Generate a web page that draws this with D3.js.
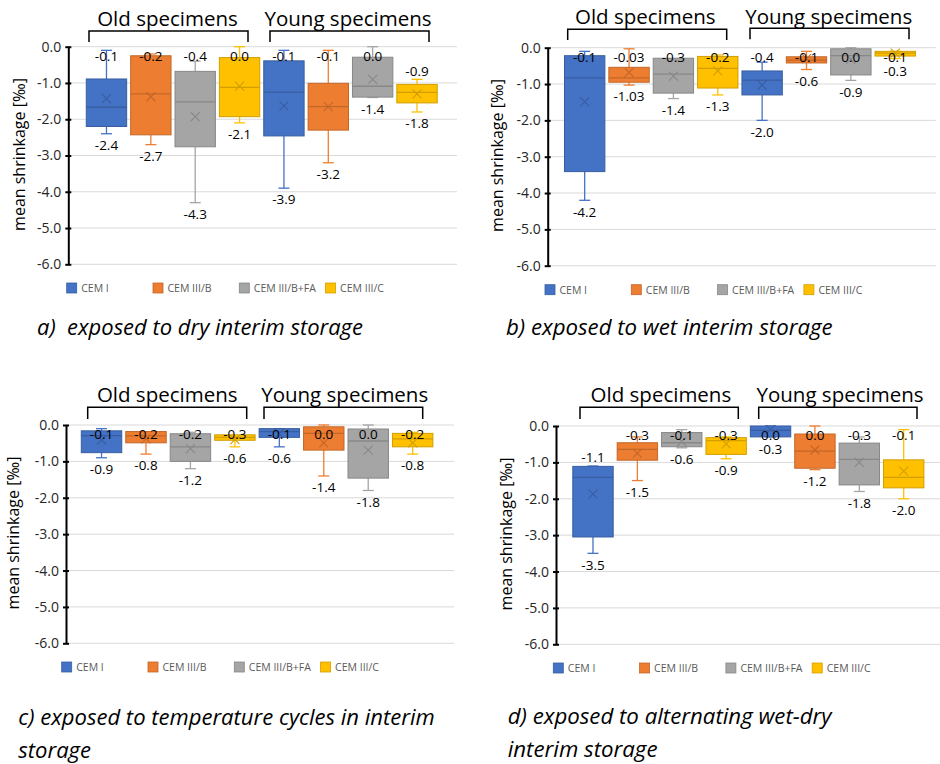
<!DOCTYPE html>
<html><head><meta charset="utf-8">
<script src="https://cdn.jsdelivr.net/npm/d3@7"></script>
<style>
body{margin:0;background:#fff}
svg{display:block}
text{font-family:"Open Sans","Noto Sans",sans-serif}
</style>
</head><body>
<svg id="chart" width="940" height="764"></svg>
<script>
// ---------- data ----------
const categories = ["CEM I", "CEM III/B", "CEM III/B+FA", "CEM III/C"];
const groups = ["Old specimens", "Young specimens"];
const colors = ["#4472C4", "#ED7D31", "#A5A5A5", "#FFC000"];
const yTicks = [0, -1, -2, -3, -4, -5, -6];
const yLabel = "mean shrinkage [‰]";

// a) dry interim storage
const dryMin    = [-2.4, -2.7, -4.3, -2.1, -3.9, -3.2, -1.4, -1.8];
const dryQ1     = [-2.2, -2.43, -2.76, -1.93, -2.46, -2.3, -1.39, -1.55];
const dryMedian = [-1.67, -1.3, -1.52, -1.12, -1.25, -1.65, -1.09, -1.26];
const dryQ3     = [-0.89, -0.25, -0.68, -0.3, -0.39, -1.01, -0.29, -1.04];
const dryMax    = [-0.1, -0.2, -0.4, 0.0, -0.1, -0.1, 0.0, -0.9];
const dryMean   = [-1.43, -1.38, -1.93, -1.09, -1.63, -1.65, -0.9, -1.3];

// b) wet interim storage
const wetMin    = [-4.2, -1.03, -1.4, -1.3, -2.0, -0.6, -0.9, -0.3];
const wetQ1     = [-3.41, -0.95, -1.25, -1.11, -1.3, -0.42, -0.75, -0.23];
const wetMedian = [-0.83, -0.83, -0.73, -0.57, -0.89, -0.34, -0.22, -0.15];
const wetQ3     = [-0.22, -0.54, -0.29, -0.24, -0.64, -0.25, -0.03, -0.1];
const wetMax    = [-0.1, -0.03, -0.3, -0.2, -0.4, -0.1, 0.0, -0.1];
const wetMean   = [-1.49, -0.68, -0.78, -0.64, -1.03, -0.3, -0.32, -0.15];

// c) temperature cycles
const cycMin    = [-0.9, -0.8, -1.2, -0.6, -0.6, -1.4, -1.8, -0.8];
const cycQ1     = [-0.76, -0.49, -1.0, -0.42, -0.34, -0.69, -1.46, -0.6];
const cycMedian = [-0.29, -0.3, -0.6, -0.34, -0.18, -0.23, -0.44, -0.38];
const cycQ3     = [-0.16, -0.18, -0.24, -0.27, -0.1, -0.05, -0.11, -0.23];
const cycMax    = [-0.1, -0.2, -0.2, -0.3, -0.1, 0.0, 0.0, -0.2];
const cycMean   = [-0.41, -0.38, -0.65, -0.4, -0.23, -0.49, -0.69, -0.49];

// d) alternating wet-dry
const altMin    = [-3.5, -1.5, -0.6, -0.9, -0.3, -1.2, -1.8, -2.0];
const altQ1     = [-3.05, -0.94, -0.57, -0.78, -0.3, -1.16, -1.62, -1.7];
const altMedian = [-1.41, -0.64, -0.46, -0.4, -0.12, -0.69, -0.92, -1.41];
const altQ3     = [-1.11, -0.46, -0.18, -0.32, 0.0, -0.22, -0.47, -0.93];
const altMax    = [-1.1, -0.3, -0.1, -0.3, 0.0, 0.0, -0.3, -0.1];
const altMean   = [-1.87, -0.75, -0.43, -0.49, -0.1, -0.66, -1.0, -1.24];

const captionA = ["a)\u00A0 exposed to dry interim storage"];
const captionB = ["b) exposed to wet interim storage"];
const captionC = ["c) exposed to temperature cycles in interim", "storage"];
const captionD = ["d) exposed to alternating wet-dry", "interim storage"];

// ---------- layout ----------
const boxKeys = [];
groups.forEach(g => categories.forEach(c => boxKeys.push(g + "|" + c)));

const panels = [
  {min: dryMin, q1: dryQ1, med: dryMedian, q3: dryQ3, max: dryMax, mean: dryMean, caption: captionA,
   axisX: 68.3, y0: 46.7, y6: 264.3, gridEnd: 457, xr: [84.3, 439.2],
   br: [[89, 248, 31, 42], [270, 429, 31, 42]], hd: [[167.5, 25.5], [348, 26]],
   leg: [66.7, 288], title: [19, 154.5], cap: [37, 335, 326, 0]},
  {min: wetMin, q1: wetQ1, med: wetMedian, q3: wetQ3, max: wetMax, mean: wetMean, caption: captionB,
   axisX: 547.7, y0: 47.7, y6: 265.7, gridEnd: 935.7, xr: [562.5, 917.4],
   br: [[567.7, 726.7, 29.3, 40], [750, 909, 28.3, 39.3]], hd: [[645.3, 24], [828.7, 23.5]],
   leg: [545, 289.7], title: [497.5, 155.5], cap: [506, 335, 326.7, 0]},
  {min: cycMin, q1: cycQ1, med: cycMedian, q3: cycQ3, max: cycMax, mean: cycMean, caption: captionC,
   axisX: 66, y0: 425, y6: 643.3, gridEnd: 454, xr: [79.3, 434.9],
   br: [[87.7, 246.7, 407.3, 419], [264, 422.7, 407.3, 419]], hd: [[167.2, 402.3], [344.7, 402.3]],
   leg: [61.7, 667], title: [13.7, 533], cap: [18.3, 725, 416.7, 33]},
  {min: altMin, q1: altQ1, med: altMedian, q3: altQ3, max: altMax, mean: altMean, caption: captionD,
   axisX: 556, y0: 426, y6: 644.3, gridEnd: 940, xr: [570.8, 925.9],
   br: [[580, 738.3, 407.3, 419], [758.7, 917, 407.3, 419]], hd: [[660.9, 402], [840, 402]],
   leg: [553.3, 668], title: [506, 534], cap: [507.7, 724.3, 324, 32.4]}
];

const svg = d3.select("#chart");
const fmt = v => (Math.abs(Math.round(v * 10) - v * 10) < 1e-9 ? v.toFixed(1) : v.toFixed(2)).replace(/^-0\.0$/, "0.0");

function fitWidth(sel, target) {
  const w = sel.node().getComputedTextLength();
  const fs = parseFloat(sel.attr("font-size"));
  sel.attr("font-size", fs * target / w);
  return fs * target / w;
}

panels.forEach(p => {
  const g = svg.append("g");
  const y = d3.scaleLinear().domain([0, -6]).range([p.y0, p.y6]);
  const x = d3.scaleBand().domain(boxKeys).range(p.xr).paddingInner(0.09).paddingOuter(0.045);
  const bw = x.bandwidth();

  // gridlines
  g.append("g").selectAll("line").data(yTicks).join("line")
    .attr("x1", p.axisX).attr("x2", p.gridEnd)
    .attr("y1", d => y(d)).attr("y2", d => y(d))
    .attr("stroke", "#D9D9D9").attr("stroke-width", 1);

  // axis
  const ax = g.append("g").attr("transform", `translate(${p.axisX},0)`)
    .call(d3.axisLeft(y).tickValues(yTicks).tickFormat(v => v.toFixed(1)).tickSizeInner(3).tickSizeOuter(0).tickPadding(4));
  ax.select(".domain").attr("stroke", "#000").attr("stroke-width", 2);
  ax.selectAll(".tick line").attr("x1", 3).attr("stroke", "#000").attr("stroke-width", 2);
  ax.selectAll(".tick text").attr("font-size", 14).attr("fill", "#262626")
    .attr("font-family", '"Open Sans","Noto Sans",sans-serif');

  // axis title
  const t = g.append("text")
    .attr("transform", `translate(${p.title[0]},${p.title[1]}) rotate(-90)`)
    .attr("text-anchor", "middle").attr("dy", "0.35em")
    .attr("font-size", 16).attr("fill", "#000").text(yLabel);
  fitWidth(t, 153);

  // boxes
  const idx = d3.range(boxKeys.length);
  const col = i => colors[i % 4];
  const dark = i => d3.color(colors[i % 4]).darker(0.55).formatHex();
  const bx = g.append("g");
  idx.forEach(i => {
    const k = boxKeys[i], cx = x(k) + bw / 2, c = col(i);
    bx.append("line").attr("x1", cx).attr("x2", cx).attr("y1", y(p.q3[i])).attr("y2", y(p.max[i])).attr("stroke", c).attr("stroke-width", 1.3);
    bx.append("line").attr("x1", cx - 5.5).attr("x2", cx + 5.5).attr("y1", y(p.max[i])).attr("y2", y(p.max[i])).attr("stroke", c).attr("stroke-width", 1.3);
    bx.append("line").attr("x1", cx).attr("x2", cx).attr("y1", y(p.q1[i])).attr("y2", y(p.min[i])).attr("stroke", c).attr("stroke-width", 1.3);
    bx.append("line").attr("x1", cx - 5.5).attr("x2", cx + 5.5).attr("y1", y(p.min[i])).attr("y2", y(p.min[i])).attr("stroke", c).attr("stroke-width", 1.3);
    bx.append("rect").attr("x", x(k)).attr("y", y(p.q3[i])).attr("width", bw)
      .attr("height", Math.max(0.5, y(p.q1[i]) - y(p.q3[i])))
      .attr("fill", c).attr("stroke", dark(i)).attr("stroke-width", 1);
    bx.append("line").attr("x1", x(k)).attr("x2", x(k) + bw).attr("y1", y(p.med[i])).attr("y2", y(p.med[i]))
      .attr("stroke", dark(i)).attr("stroke-width", 1.3);
    const my = y(p.mean[i]), s = 4.5;
    bx.append("path").attr("d", `M${cx - s},${my - s}L${cx + s},${my + s}M${cx - s},${my + s}L${cx + s},${my - s}`)
      .attr("stroke", dark(i)).attr("stroke-width", 1.1).attr("fill", "none");
  });

  // data labels
  const lb = g.append("g").attr("font-size", 13.5).attr("fill", "#000").attr("text-anchor", "middle");
  idx.forEach(i => {
    const cx = x(boxKeys[i]) + bw / 2;
    const topY = Math.max(y(p.max[i]) - 8.5, p.y0 + 9.5);
    const botY = Math.max(y(p.min[i]) + 11.5, topY + 14);
    lb.append("text").attr("x", cx).attr("y", topY).attr("dy", "0.35em").text(fmt(p.max[i]));
    lb.append("text").attr("x", cx).attr("y", botY).attr("dy", "0.35em").text(fmt(p.min[i]));
  });

  // group brackets and headers
  p.br.forEach((b, j) => {
    g.append("path").attr("d", `M${b[0]},${b[3]}V${b[2]}H${b[1]}V${b[3]}`)
      .attr("fill", "none").attr("stroke", "#000").attr("stroke-width", 1.5);
    g.append("text").attr("x", p.hd[j][0]).attr("y", p.hd[j][1]).attr("text-anchor", "middle")
      .attr("font-size", 20.5).attr("fill", "#000").text(groups[j]);
  });

  // legend
  const lg = g.append("g");
  categories.forEach((c, i) => {
    const lx = p.leg[0] + i * 86.3, ly = p.leg[1];
    lg.append("rect").attr("x", lx).attr("y", ly - 5).attr("width", 10).attr("height", 10)
      .attr("fill", colors[i]).attr("stroke", d3.color(colors[i]).darker(0.55).formatHex()).attr("stroke-width", 0.8);
    lg.append("text").attr("x", lx + 14.5).attr("y", ly + 3.8).attr("font-size", 10.5).attr("fill", "#595959").text(c);
  });

  // caption
  const cap = g.append("g");
  const first = cap.append("text").attr("x", p.cap[0]).attr("y", p.cap[1]).attr("font-size", 20)
    .attr("font-style", "italic").attr("fill", "#000").style("white-space", "pre").text(p.caption[0]);
  const fs = fitWidth(first, p.cap[2]);
  p.caption.slice(1).forEach((line, j) => {
    cap.append("text").attr("x", p.cap[0]).attr("y", p.cap[1] + p.cap[3] * (j + 1)).attr("font-size", fs)
      .attr("font-style", "italic").attr("fill", "#000").text(line);
  });
});
</script>
</body></html>
